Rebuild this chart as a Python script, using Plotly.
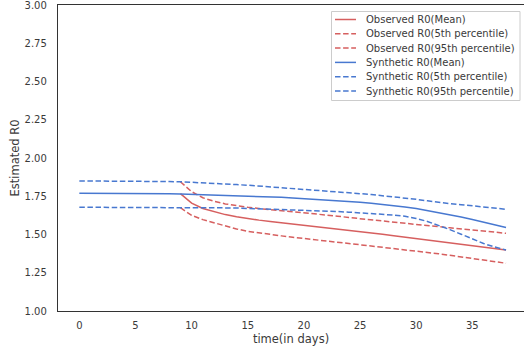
import plotly.graph_objects as go

# Days of the simulation
days = list(range(0, 39))
obs_days = list(range(9, 39))

# Synthetic R0 estimates (days 0-38)
syn_mean = [1.770, 1.770, 1.769, 1.769, 1.768, 1.768, 1.767, 1.767, 1.766, 1.765,
            1.763, 1.761, 1.759, 1.757, 1.755, 1.752, 1.749, 1.746, 1.743, 1.739,
            1.735, 1.731, 1.727, 1.722, 1.717, 1.711, 1.704, 1.697, 1.689, 1.680,
            1.670, 1.657, 1.642, 1.629, 1.614, 1.598, 1.582, 1.564, 1.546]
syn_p5 = [1.678, 1.678, 1.678, 1.678, 1.678, 1.678, 1.678, 1.678, 1.678, 1.678,
          1.677, 1.676, 1.675, 1.674, 1.673, 1.671, 1.669, 1.667, 1.665, 1.662,
          1.659, 1.656, 1.653, 1.650, 1.646, 1.642, 1.638, 1.633, 1.627, 1.619,
          1.605, 1.585, 1.560, 1.532, 1.502, 1.470, 1.441, 1.418, 1.399]
syn_p95 = [1.850, 1.850, 1.849, 1.849, 1.848, 1.848, 1.847, 1.847, 1.846, 1.845,
           1.842, 1.838, 1.834, 1.830, 1.826, 1.822, 1.817, 1.812, 1.807, 1.802,
           1.797, 1.791, 1.785, 1.779, 1.773, 1.767, 1.761, 1.754, 1.747, 1.739,
           1.730, 1.720, 1.710, 1.702, 1.695, 1.688, 1.680, 1.673, 1.665]

# Observed R0 estimates (days 9-38)
obs_mean = [1.767, 1.705, 1.670, 1.648, 1.630, 1.616, 1.604, 1.594, 1.585, 1.577,
            1.568, 1.560, 1.551, 1.543, 1.535, 1.527, 1.519, 1.510, 1.501, 1.492,
            1.483, 1.474, 1.464, 1.455, 1.446, 1.436, 1.427, 1.418, 1.408, 1.399]
obs_p5 = [1.675, 1.625, 1.597, 1.577, 1.555, 1.536, 1.521, 1.510, 1.500, 1.491,
          1.482, 1.473, 1.465, 1.457, 1.449, 1.441, 1.433, 1.425, 1.418, 1.409,
          1.400, 1.392, 1.383, 1.374, 1.364, 1.354, 1.344, 1.334, 1.323, 1.312]
obs_p95 = [1.845, 1.780, 1.740, 1.717, 1.700, 1.688, 1.678, 1.670, 1.663, 1.657,
           1.651, 1.645, 1.637, 1.628, 1.620, 1.611, 1.603, 1.594, 1.586, 1.579,
           1.572, 1.565, 1.558, 1.551, 1.544, 1.537, 1.530, 1.523, 1.516, 1.508]

RED = "#d65f5f"
BLUE = "#4878d0"
DASH = "5.5px,2.6px"
TEXT = "#3a3a3a"
FONT = "DejaVu Sans"

series = [
    ("Observed R0(Mean)", obs_days, obs_mean, RED, "solid"),
    ("Observed R0(5th percentile)", obs_days, obs_p5, RED, DASH),
    ("Observed R0(95th percentile)", obs_days, obs_p95, RED, DASH),
    ("Synthetic R0(Mean)", days, syn_mean, BLUE, "solid"),
    ("Synthetic R0(5th percentile)", days, syn_p5, BLUE, DASH),
    ("Synthetic R0(95th percentile)", days, syn_p95, BLUE, DASH),
]

W, H = 524, 352
ML, MR, MT, MB = 58, 0, 5, 41
PW, PH = W - ML - MR, H - MT - MB


def px_x(p):
    return (p - ML) / PW


def px_y(p):
    return (H - MB - p) / PH


fig = go.Figure()
for name, x, y, color, dash in series:
    fig.add_trace(go.Scatter(x=x, y=y, mode="lines", name=name, showlegend=False,
                             line=dict(color=color, width=1.5, dash=dash)))

# Compact legend box in the upper right corner
shapes = [dict(type="rect", xref="paper", yref="paper",
               x0=px_x(331.5), x1=px_x(520), y0=px_y(11.5), y1=px_y(100.5),
               line=dict(color="#cccccc", width=1), fillcolor="rgba(255,255,255,0.85)",
               layer="above")]
annotations = []
row_h = 14.3
for i, (name, _, _, color, dash) in enumerate(series):
    yc = 19.5 + i * row_h
    shapes.append(dict(type="line", xref="paper", yref="paper",
                       x0=px_x(335), x1=px_x(356), y0=px_y(yc), y1=px_y(yc),
                       line=dict(color=color, width=1.5, dash=dash), layer="above"))
    annotations.append(dict(xref="paper", yref="paper", x=px_x(364), y=px_y(yc),
                            xanchor="left", yanchor="middle", showarrow=False,
                            text=name, font=dict(family=FONT, size=10, color=TEXT)))

fig.update_layout(
    width=W, height=H,
    margin=dict(l=ML, r=MR, t=MT, b=MB),
    paper_bgcolor="white", plot_bgcolor="white",
    font=dict(family=FONT, size=10, color=TEXT),
    showlegend=False,
    shapes=shapes,
    annotations=annotations,
    xaxis=dict(range=[-1.9, 39.6], tickmode="linear", tick0=0, dtick=5,
               showgrid=False, zeroline=False, showline=True,
               linecolor="#333333", linewidth=1.3, mirror=True, ticks="",
               ticklabelstandoff=5,
               tickfont=dict(size=10, color=TEXT),
               title=dict(text="time(in days)", font=dict(size=11.5, color=TEXT),
                          standoff=4)),
    yaxis=dict(range=[1.0, 3.0], tickmode="linear", tick0=1.0, dtick=0.25,
               tickformat=".2f", showgrid=False, zeroline=False, showline=True,
               linecolor="#333333", linewidth=1.3, ticks="",
               ticklabelstandoff=8, ticklabeloverflow="allow",
               tickfont=dict(size=10, color=TEXT),
               title=dict(text="Estimated R0", font=dict(size=11.5, color=TEXT),
                          standoff=2)),
)

fig.write_html("out.html")
